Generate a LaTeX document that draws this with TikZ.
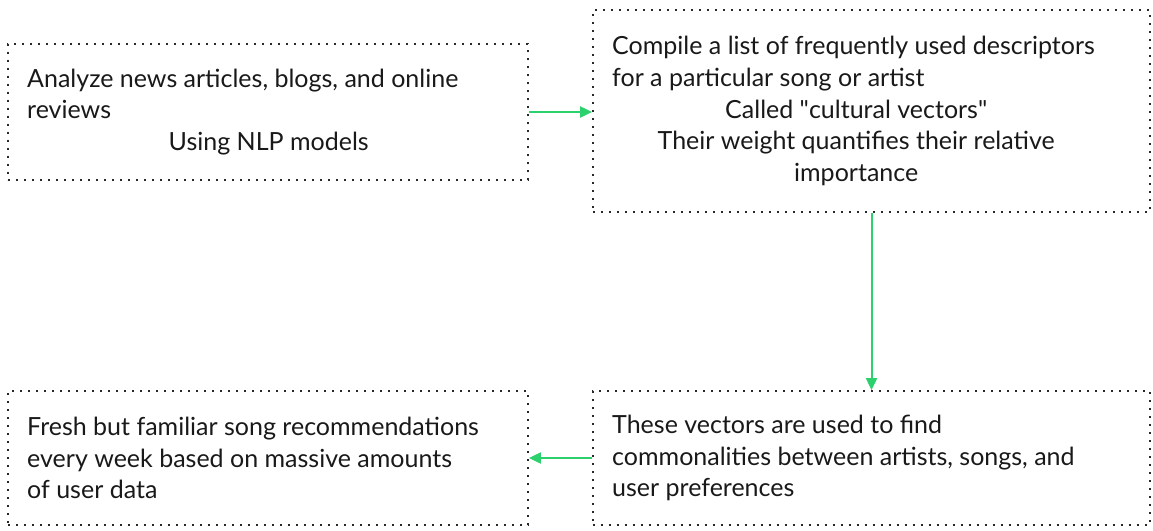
\documentclass[tikz,border=0pt]{standalone}
\usepackage{fontspec}
\setmainfont{Lato}
\usetikzlibrary{arrows.meta}
\definecolor{arrowgreen}{RGB}{44,208,108}
\definecolor{dotgray}{RGB}{40,40,40}
\tikzset{
  dotbox/.style={draw=dotgray, line width=1.8pt, dash pattern=on 1.6pt off 6.4pt, inner sep=0pt},
  boxtext/.style={inner sep=0pt, anchor=west, font=\fontsize{25}{31.7}\selectfont, text=black!90},
  flow/.style={draw=arrowgreen, line width=2pt, -{Triangle[length=12pt,width=11pt]}}
}
\begin{document}
\begin{tikzpicture}[x=1pt,y=-1pt]
\useasboundingbox (0,0) rectangle (1153,530);
% boxes
\node[dotbox, minimum width=520pt, minimum height=136pt] (a) at (268,112) {};
\node[dotbox, minimum width=557pt, minimum height=202pt] (b) at (871.5,111) {};
\node[dotbox, minimum width=557pt, minimum height=134pt] (c) at (871.5,458) {};
\node[dotbox, minimum width=520pt, minimum height=134pt] (d) at (268,458) {};
% texts
\node[boxtext] (ta) at (27,112) {\parbox{483pt}{\raggedright Analyze news articles, blogs, and online\\reviews\par\centering Using NLP models\par}};
\node[boxtext] (tb) at (612,111) {\parbox{488pt}{\raggedright Compile a list of frequently used descriptors\\for a particular song or artist\par\centering Called \textquotedbl cultural vectors\textquotedbl\\Their weight quantifies their relative\\importance\par}};
\node[boxtext] (tc) at (612,458) {\parbox{500pt}{\raggedright These vectors are used to find\\commonalities between artists, songs, and\\user preferences\par}};
\node[boxtext] (td) at (27,458) {\parbox{483pt}{\raggedright Fresh but familiar song recommendations\\every week based on massive amounts\\of user data\par}};
% connectors
\draw[flow] (a.east) -- (b.west |- a.east);
\draw[flow] (b.south) -- (c.north);
\draw[flow] (c.west) -- (d.east);
\end{tikzpicture}
\end{document}
